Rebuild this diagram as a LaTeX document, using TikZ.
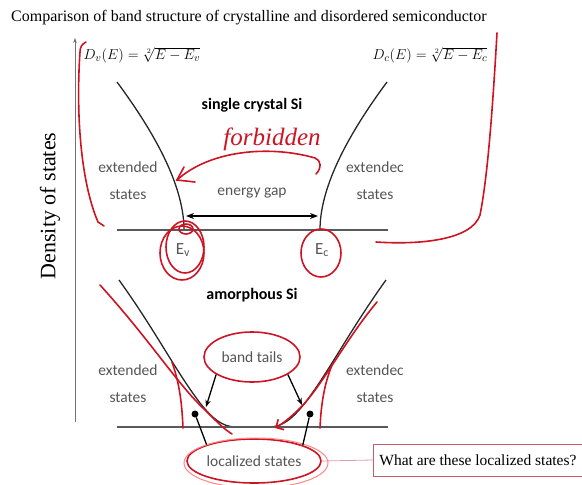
\documentclass[tikz,border=0pt]{standalone}
\usepackage{fontspec}
\setmainfont{Liberation Serif}
\setsansfont{Carlito}
\usetikzlibrary{arrows.meta, shapes.geometric, calc}
\definecolor{inkred}{RGB}{205,20,35}
\definecolor{txtgray}{RGB}{85,85,85}
\definecolor{boxred}{RGB}{200,90,110}

\begin{document}
\begin{tikzpicture}[x=1pt, y=-1pt,
  every node/.style={font=\sffamily\fontsize{15.5}{27}\selectfont, align=center, inner sep=1pt},
  label/.style ={text=txtgray},
  heading/.style={font=\sffamily\bfseries\fontsize{16}{18}\selectfont},
  serif/.style ={font=\rmfamily\fontsize{15.5}{18}\selectfont},
  band/.style  ={line width=1.3pt, black!85},
  base/.style  ={line width=2pt, black!65},
  ink/.style   ={inkred, line width=1.6pt, line cap=round},
  ring/.style  ={ellipse, draw=inkred, line width=1.6pt, inner sep=0pt},
  tail/.style  ={-{Stealth[length=7pt]}, line width=1.3pt},
  dot/.style   ={circle, fill=black, inner sep=0pt, minimum size=7pt},
]
\useasboundingbox (0,0) rectangle (582,485);

% Title and axis
\node[serif, font=\rmfamily\fontsize{16}{18}\selectfont, anchor=west] (title) at (10,18)
  {Comparison of band structure of crystalline and disordered semiconductor};
\coordinate (ax0) at (75,422);
\coordinate (ax1) at (75,38);
\draw[black!55, line width=0.8pt, -{Stealth[length=5pt]}] (ax0) -- (ax1);
\node[font=\rmfamily\fontsize{22}{24}\selectfont, rotate=90] (dos) at (50,206) {Density of states};

% Single crystal
\node[font=\fontsize{15}{17}\selectfont] (Dv) at (142,55) {$D_v(E) = \sqrt[2]{E-E_v}$};
\node[font=\fontsize{15}{17}\selectfont] (Dc) at (430,55) {$D_c(E) = \sqrt[2]{E-E_c}$};
\node[heading] (crys) at (252,105) {single crystal Si};

\coordinate (vtop) at (117,82);
\coordinate (vbot) at (184,230);
\coordinate (ctop) at (387,82);
\coordinate (cbot) at (320,230);
\draw[band] (vtop) .. controls (160,140) and (184,190) .. (vbot);
\draw[band] (ctop) .. controls (344,140) and (320,190) .. (cbot);
\coordinate (line1L) at (117,230);
\coordinate (line1R) at (388,230);
\draw[base] (line1L) -- (line1R);

\node[label] (ext1L) at (128,181) {extended\\states};
\node[label] (ext1R) at (375,181) {extendec\\states};
\node[label] (gap) at (252,193) {energy gap};
\coordinate (gapL) at (186,216);
\coordinate (gapR) at (318,216);
\draw[{Stealth[length=8pt]}-{Stealth[length=8pt]}, line width=1.6pt] (gapL) -- (gapR);

\node[label, font=\sffamily\fontsize{17}{19}\selectfont] (Ev) at (183,250) {E\textsubscript{v}};
\node[label, font=\sffamily\fontsize{17}{19}\selectfont] (Ec) at (322,250) {E\textsubscript{c}};

% Amorphous
\node[heading] (amor) at (252,295) {amorphous Si};
\draw[band] (119,280) .. controls (155,330) and (175,370) .. (200,403)
  .. controls (212,418) and (222,427) .. (236,427);
\draw[band] (386,280) .. controls (350,330) and (330,370) .. (305,403)
  .. controls (293,418) and (283,427) .. (269,427);
\coordinate (line2L) at (117,427);
\coordinate (line2R) at (388,427);
\draw[base] (line2L) -- (line2R);

\node[label] (ext2L) at (128,384) {extended\\states};
\node[label] (ext2R) at (375,384) {extendec\\states};

\node[ring, minimum width=96pt, minimum height=50pt, text=txtgray] (tails) at (252,357) {band tails};
\coordinate (tipL) at (206,407);
\coordinate (tipR) at (302,405);
\draw[tail] (tails.206) -- (tipL);
\draw[tail] (tails.334) -- (tipR);

\node[ring, minimum width=134pt, minimum height=44pt, text=txtgray] (loc) at (254,461) {localized states};
\draw[pink!70!red, line width=1pt] (256,463) ellipse [x radius=72, y radius=25];
\node[dot] (dotL) at (195,414) {};
\node[dot] (dotR) at (310,414) {};
\draw[line width=1.3pt] (dotL) -- (loc.161);
\draw[line width=1.3pt] (dotR) -- (loc.18);

\node[serif, draw=boxred, line width=0.9pt, anchor=west, minimum width=209pt,
      minimum height=32pt] (ques) at (373,460) {What are these localized states?};
\draw[boxred!60, line width=0.8pt] (loc.east) -- (ques.west);

% Red handwriting
\node[inkred, font=\rmfamily\itshape\fontsize{25}{27}\selectfont] (forb) at (272,139) {forbidden};
\draw[ink] (316,174) .. controls (322,168) and (321,160) .. (315,158)
  .. controls (270,145) and (210,150) .. (177,180);
\draw[ink] (184,167) -- (177,180) -- (195,182);
\draw[ink] (86,42) .. controls (82,44) and (80,47) .. (80,52)
  .. controls (76,110) and (80,180) .. (98,222) -- (104,226);
\draw[ink] (497,33) .. controls (492,120) and (487,180) .. (480,215)
  .. controls (472,240) and (420,245) .. (376,242);
\draw[ink] (182,253) ellipse [x radius=22, y radius=27];
\draw[ink] ($(Ev)+(2,-3)$) ellipse [x radius=19, y radius=26];
\draw[ink] (186,229) ellipse [x radius=7, y radius=5];
\draw[ink] (321,253) ellipse [x radius=20, y radius=24];
\draw[ink] (100,285) .. controls (150,340) and (178,385) .. (205,410)
  .. controls (215,420) and (225,430) .. (232,434);
\draw[ink] (183,428) .. controls (182,405) and (180,385) .. (172,362);
\draw[ink, -{Straight Barb[length=6pt]}] (377,302) .. controls (345,340) and (320,390) .. (298,410)
  .. controls (290,418) and (282,424) .. (275,428);
\draw[ink] (320,428) .. controls (321,405) and (324,385) .. (332,365);
\end{tikzpicture}
\end{document}
